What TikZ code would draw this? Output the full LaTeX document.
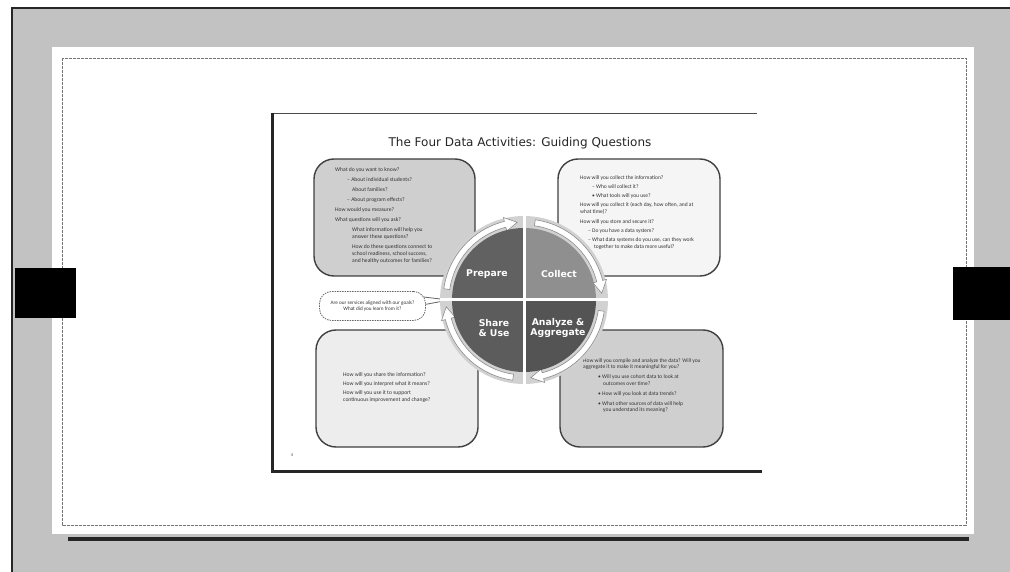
\documentclass[tikz,border=0pt]{standalone}
\usepackage{fontspec}
\setmainfont{Carlito}
\newfontfamily\titlefont{DejaVu Sans}
\newfontfamily\wheelfont{DejaVu Sans}
\usetikzlibrary{calc}

\definecolor{mountgray}{gray}{0.76}
\definecolor{boxdark}{gray}{0.81}
\definecolor{boxlight}{gray}{0.96}
\definecolor{boxpale}{gray}{0.93}
\definecolor{prepcol}{gray}{0.38}
\definecolor{collcol}{gray}{0.56}
\definecolor{sharecol}{gray}{0.36}
\definecolor{anacol}{gray}{0.33}

\tikzset{
  qbox/.style={draw=black!75, line width=1.4pt, rounded corners=20pt,
    minimum width=#1, minimum height=117pt, inner sep=0pt},
  boxtext/.style={font=\fontsize{5.6}{7}\selectfont, text=black!80,
    align=left, inner sep=0pt, anchor=north west},
  wheellabel/.style={font=\wheelfont\bfseries\fontsize{9.3}{10.5}\selectfont,
    text=white, align=center, inner sep=0pt},
  ringarrow/.style={fill=white, draw=black!45, line width=0.6pt},
  bubble/.style={draw=black!60, line width=0.8pt, dash pattern=on 1.5pt off 1pt,
    fill=white, rounded corners=12pt, minimum width=106pt, minimum height=29pt,
    align=center, inner sep=0pt, font=\fontsize{5.2}{6.5}\selectfont, text=black!80}
}

\begin{document}
\begin{tikzpicture}[x=1pt,y=-1pt]
\useasboundingbox (0,0) rectangle (1010,572);

% mount board around the page
\fill[white] (0,0) rectangle (1010,572);
\fill[mountgray] (12,8) rectangle (1010,572);
\draw[black!85, line width=1.5pt] (12,572) -- (12,8) -- (1010,8);

% page with its dashed inner rule and bottom shadow
\fill[white] (52,47) rectangle (974,534);
\draw[black!55, line width=0.6pt, dash pattern=on 3pt off 1pt] (62,58) rectangle (966,525);
\draw[black!85, line width=4pt] (68,539) -- (969,539);

% binder tabs
\fill[black] (15,268) rectangle (76,318);
\fill[black] (953,267) rectangle (1010,320);

% slide frame
\draw[black!70, line width=1pt] (272,114) -- (757,114);
\draw[black!85, line width=3pt] (272,113) -- (272,471) -- (762,471);

\node[font=\titlefont\fontsize{12}{13}\selectfont, text=black!85] (title) at (520,143)
  {The Four Data Activities: Guiding Questions};

% question boxes
\node[qbox=161pt, fill=boxdark]  (prepbox)  at (394.5,217.5) {};
\node[qbox=162pt, fill=boxlight] (collbox)  at (639,217.5) {};
\node[qbox=162pt, fill=boxpale]  (sharebox) at (397,388.5) {};
\node[qbox=163pt, fill=boxdark]  (anabox)   at (641.5,388.5) {};

\node[boxtext] (preptext) at (335,167) {%
What do you want to know?\\[3pt]
\hspace*{12pt}– About individual students?\\[3pt]
\hspace*{17pt}About families?\\[3pt]
\hspace*{12pt}– About program effects?\\[3pt]
How would you measure?\\[3pt]
What questions will you ask?\\[3pt]
\hspace*{17pt}What information will help you\\
\hspace*{17pt}answer these questions?\\[3pt]
\hspace*{17pt}How do these questions connect to\\
\hspace*{17pt}school readiness, school success,\\
\hspace*{17pt}and healthy outcomes for families?};

\node[boxtext, font=\fontsize{5.5}{6.8}\selectfont] (colltext) at (580,175) {%
How will you collect the information?\\[2.5pt]
\hspace*{12pt}– Who will collect it?\\[2.5pt]
\hspace*{12pt}• What tools will you use?\\[2.5pt]
How will you collect it (each day, how often, and at\\
what time)?\\[2.5pt]
How will you store and secure it?\\[2.5pt]
\hspace*{8pt}– Do you have a data system?\\[2.5pt]
\hspace*{8pt}– What data systems do you use, can they work\\
\hspace*{14pt}together to make data more useful?};

\node[boxtext] (sharetext) at (343,372) {%
How will you share the information?\\[2pt]
How will you interpret what it means?\\[2pt]
How will you use it to support\\
continuous improvement and change?};

\node[boxtext, font=\fontsize{5.5}{6.8}\selectfont] (anatext) at (583,358) {%
How will you compile and analyze the data? Will you\\
aggregate it to make it meaningful for you?\\[3pt]
\hspace*{15pt}• Will you use cohort data to look at\\
\hspace*{20pt}outcomes over time?\\[3pt]
\hspace*{15pt}• How will you look at data trends?\\[3pt]
\hspace*{15pt}• What other sources of data will help\\
\hspace*{20pt}you understand its meaning?};

% speech bubble pointing at the wheel
\coordinate (wheel) at (524,300);
\coordinate (tailtip) at (449,300);
\fill[white, draw=black!60, line width=0.8pt] (415,296) -- (tailtip) -- (417,306) -- cycle;
\node[bubble] (bubble) at (372.5,306) {Are our services aligned with our goals?\\What did you learn from it?};
\fill[white] (412,298) -- (422,299) -- (418,305) -- cycle;

% the wheel: ring background, clockwise arrows, quadrants
\fill[black!18] (wheel) circle[radius=84];
\foreach \s/\e in {188/265, 278/355, 8/85, 98/175}{
  \pgfmathsetmacro\h{\e-9}
  \filldraw[ringarrow] ($(wheel)+(\s:75)$) arc[start angle=\s, end angle=\h, radius=75]
    -- ($(wheel)+(\h:71)$) -- ($(wheel)+(\e:78)$) -- ($(wheel)+(\h:85)$)
    -- ($(wheel)+(\h:81)$) arc[start angle=\h, end angle=\s, radius=81] -- cycle;
}
\fill[prepcol]  (wheel) -- ++(180:72) arc[start angle=180, end angle=270, radius=72] -- cycle;
\fill[collcol]  (wheel) -- ++(270:72) arc[start angle=270, end angle=360, radius=72] -- cycle;
\fill[anacol]   (wheel) -- ++(0:72)   arc[start angle=0,   end angle=90,  radius=72] -- cycle;
\fill[sharecol] (wheel) -- ++(90:72)  arc[start angle=90,  end angle=180, radius=72] -- cycle;
\draw[white, line width=3pt] ($(wheel)+(-84,0)$) -- ($(wheel)+(84,0)$);
\draw[white, line width=3pt] ($(wheel)+(0,-84)$) -- ($(wheel)+(0,84)$);

\node[wheellabel] (prepare) at (487,274) {Prepare};
\node[wheellabel] (collect) at (559,274) {Collect};
\node[wheellabel] (shareuse) at (494,328) {Share\\\& Use};
\node[wheellabel] (analyze) at (558,328) {Analyze \&\\Aggregate};

\node[font=\fontsize{4.5}{5}\selectfont, text=black!70] (pagenum) at (292,455) {4};
\end{tikzpicture}
\end{document}
